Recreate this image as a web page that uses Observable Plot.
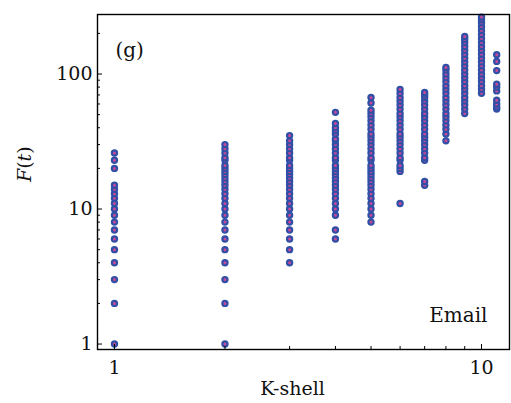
<!DOCTYPE html>
<html>
<head>
<meta charset="utf-8">
<script src="https://cdn.jsdelivr.net/npm/d3@7"></script>
<script src="https://cdn.jsdelivr.net/npm/@observablehq/plot@0.6"></script>
<style>
  html, body { margin: 0; padding: 0; background: #fff; }
</style>
</head>
<body>
<div id="chart"></div>
<script>
// K-shell index of each column
const shells = [1, 2, 3, 4, 5, 6, 7, 8, 9, 10, 11];
// F(t) values read for each K-shell column
const f1 = [1,2,3,4,5,6,7,8,9,10,11,12,13,14,15,20,23,26];
const f2 = [1,2,3,4,5,6,7,8,9,10,11,12,13,14,15,16,17,18,19,20,21,23,24,26,28,30];
const f3 = [4,5,6,7,8,9,10,11,12,13,14,15,16,17,18,19,20,21,23,24,26,28,30,32,35];
const f4 = [6,7,9,10,11,12,13,14,15,16,17,18,19,20,21,23,24,26,28,30,32,33,36,38,40,43,52];
const f5 = [8,9,10,11,12,13,14,15,16,17,18,19,20,21,23,24,26,28,30,32,34,36,39,42,45,48,51,54,61,67];
const f6 = [11,19,20,21,23,24,26,28,30,32,34,36,39,42,45,48,51,55,59,63,67,72,77];
const f7 = [15,16,23,24,26,28,30,32,34,36,39,42,45,48,51,55,59,63,67,70,73];
const f8 = [32,36,39,42,45,48,51,55,59,63,67,72,77,82,88,94,100,107,112];
const f9 = [51,55,59,63,67,72,77,82,88,94,100,107,115,123,131,140,150,160,171,181,190];
const f10 = [72,77,82,88,94,100,107,115,123,131,140,150,160,171,183,196,210,225,240,252,264];
const f11 = [55,57,60,64,75,80,84,106,124,139];
const fLists = [f1, f2, f3, f4, f5, f6, f7, f8, f9, f10, f11];

// tick values and labels
const xMajor = [1, 10];
const xMinor = [2, 3, 4, 5, 6, 7, 8, 9];
const yMajor = [1, 10, 100];
const yMinor = [2, 3, 4, 5, 6, 7, 8, 9, 20, 30, 40, 50, 60, 70, 80, 90, 200];
const xTitle = "K-shell";
const yTitle = "F(t)";
const panelTag = "(g)";
const datasetName = "Email";

const points = shells.flatMap((k, i) => fLists[i].map(f => ({k, f})));

const serif = "DejaVu Serif";
const ink = "#111";

const chart = Plot.plot({
  width: 511,
  height: 403,
  marginLeft: 97,
  marginRight: 2,
  marginTop: 14,
  marginBottom: 54,
  style: {fontFamily: serif, background: "#fff"},
  x: {type: "log", domain: [0.899, 11.92], label: null},
  y: {type: "log", domain: [0.911, 276], label: null},
  marks: [
    Plot.dot(points, {x: "k", y: "f", r: 2.6, fill: "#c8489a", stroke: "#3050a6", strokeWidth: 2.2}),
    Plot.frame({stroke: "#000", strokeWidth: 1.4}),
    // inward ticks
    Plot.axisX(xMajor, {anchor: "bottom", tickSize: 5, dy: -5, fill: "none", stroke: "#000", label: null}),
    Plot.axisX(xMinor, {anchor: "bottom", tickSize: 3, dy: -3, fill: "none", stroke: "#000", label: null}),
    Plot.axisY(yMajor, {anchor: "left", tickSize: 5, dx: 5, fill: "none", stroke: "#000", label: null}),
    Plot.axisY(yMinor, {anchor: "left", tickSize: 3, dx: 3, fill: "none", stroke: "#000", label: null}),
    // tick labels
    Plot.axisX(xMajor, {anchor: "bottom", tickSize: 0, tickPadding: 11, fontSize: 19, fill: ink, tickFormat: d => String(d), label: null}),
    Plot.axisY(yMajor, {anchor: "left", tickSize: 0, tickPadding: 5, fontSize: 19, fill: ink, tickFormat: d => String(d), label: null}),
    // titles and annotations
    Plot.text([xTitle], {frameAnchor: "bottom", dx: -11, dy: 45, fontSize: 19, fill: ink, letterSpacing: 3.5, text: d => d}),
    Plot.text([yTitle], {frameAnchor: "left", dx: -73, rotate: -90, fontSize: 19, fill: ink, text: d => d}),
    Plot.text([panelTag], {frameAnchor: "top-left", dx: 18, dy: 28, textAnchor: "start", fontSize: 20, fill: ink, text: d => d}),
    Plot.text([datasetName], {frameAnchor: "bottom-right", dx: -22, dy: -28, textAnchor: "end", fontSize: 20, fill: ink, letterSpacing: 1.5, text: d => d})
  ]
});

document.getElementById("chart").appendChild(chart);

// italicise F and t of the y title, keep parentheses upright
d3.select(chart).selectAll("text").each(function() {
  const t = d3.select(this);
  if (t.text() === yTitle) {
    t.text(null);
    t.append("tspan").attr("font-style", "italic").text("F");
    t.append("tspan").text("(");
    t.append("tspan").attr("font-style", "italic").text("t");
    t.append("tspan").text(")");
  }
});
</script>
</body>
</html>
